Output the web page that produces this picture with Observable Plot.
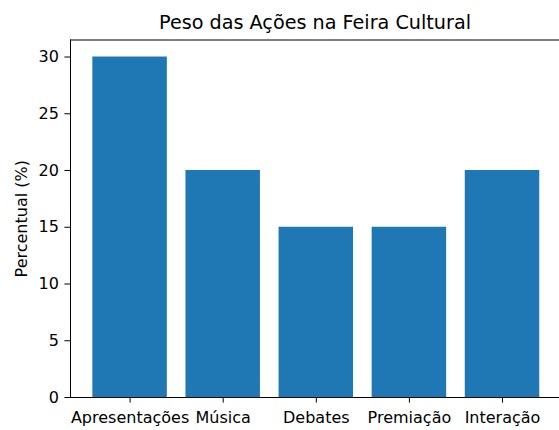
<!DOCTYPE html>
<html>
<head>
<meta charset="utf-8">
<script src="https://cdn.jsdelivr.net/npm/d3@7"></script>
<script src="https://cdn.jsdelivr.net/npm/@observablehq/plot@0.6"></script>
<style>
  html, body { margin: 0; padding: 0; background: #fff; overflow: hidden; }
</style>
</head>
<body>
<div id="chart"></div>
<script>
const title = "Peso das Ações na Feira Cultural";
const yLabel = "Percentual (%)";
const categories = ["Apresentações", "Música", "Debates", "Premiação", "Interação"];
const values = [30, 20, 15, 15, 20];
const yTicks = [0, 5, 10, 15, 20, 25, 30];
const yMax = 31.5;

const data = categories.map((c, i) => ({category: c, value: values[i]}));

const chart = Plot.plot({
  width: 559,
  height: 430,
  marginLeft: 70,
  marginRight: 0,
  marginTop: 39.5,
  marginBottom: 33,
  style: {fontFamily: "DejaVu Sans", fontSize: "16px", background: "#fff", color: "#000"},
  x: {
    type: "band",
    domain: categories,
    range: [70, 561.6],
    paddingInner: 0.2,
    paddingOuter: 0.24,
    round: false,
    label: null,
    tickSize: 5.6,
    tickPadding: 8.5,
    line: true
  },
  y: {
    domain: [0, yMax],
    ticks: yTicks,
    label: yLabel,
    labelArrow: "none",
    labelAnchor: "center",
    labelOffset: 55,
    tickSize: 5.6,
    tickPadding: 6,
    line: true
  },
  marks: [
    Plot.barY(data, {x: "category", y: "value", fill: "#1f77b4"}),
    Plot.ruleY([yMax], {stroke: "#000", strokeWidth: 1.1}),
    Plot.text([title], {frameAnchor: "top", lineAnchor: "bottom", dy: -11.5, fontSize: 19.2, fill: "#000"})
  ]
});
document.getElementById("chart").appendChild(chart);
</script>
</body>
</html>
